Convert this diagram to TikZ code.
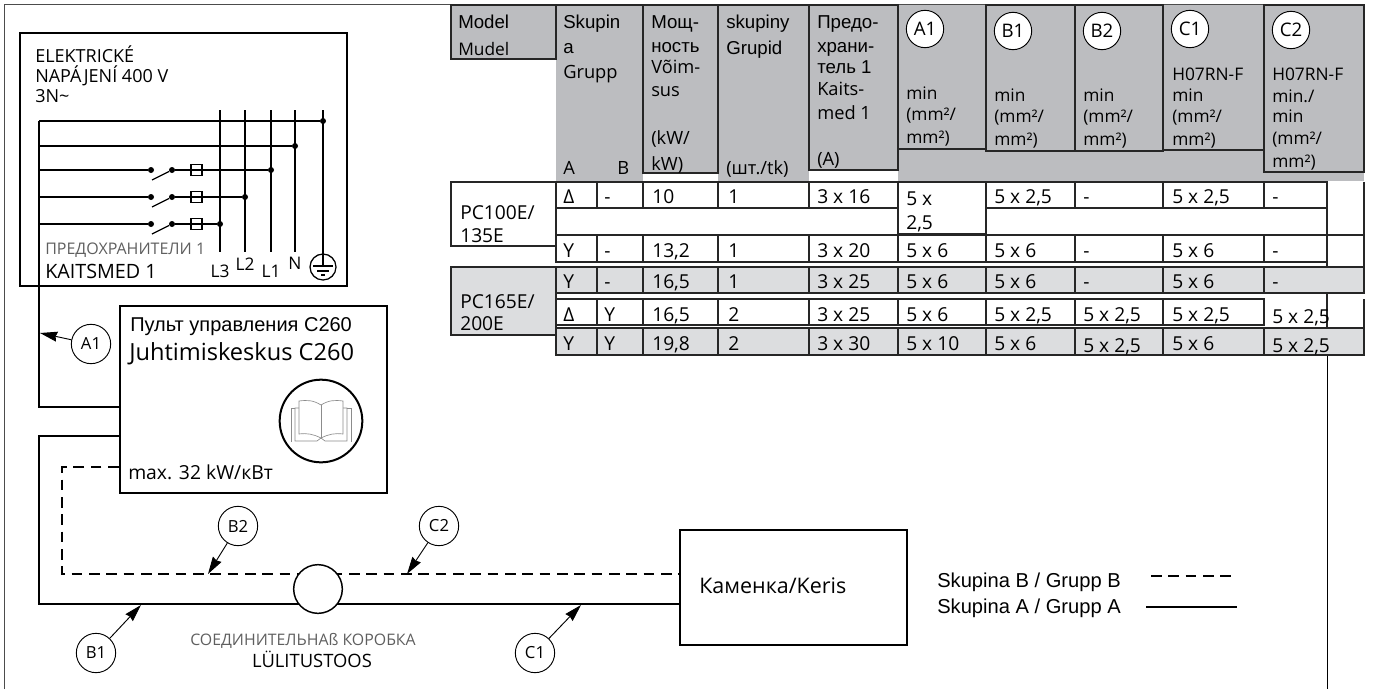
\documentclass[tikz,border=0pt]{standalone}
\usepackage{fontspec}
\usepackage{xcolor}
\setmainfont{Open Sans}
\newfontfamily\arialfont{Liberation Sans}
\usetikzlibrary{arrows.meta, positioning}
\definecolor{headergrey}{RGB}{188,189,192}
\definecolor{rowgrey}{RGB}{220,221,223}
\definecolor{labelgrey}{RGB}{95,95,95}

\begin{document}
\begin{tikzpicture}[
    x=0.75pt, y=-0.75pt,
    wire/.style={line width=2.1pt},
    thinwire/.style={line width=0.95pt},
    grid/.style={draw=black!85, line width=1.05pt},
    dashwire/.style={line width=2.1pt, dash pattern=on 8pt off 5pt},
    leader/.style={-{Stealth[length=13pt, width=7.5pt, inset=1pt]}, line width=0.7pt},
    tag/.style={draw, circle, fill=white, minimum size=29.5pt, inner sep=0pt, line width=0.7pt, font=\fontsize{12.5}{14}\selectfont},
    htag/.style={tag, minimum size=28pt, font=\fontsize{14}{16}\selectfont},
    junction/.style={circle, fill=black, minimum size=4.5pt, inner sep=0pt},
    fuse/.style={draw, thinwire, minimum size=8.2pt, inner sep=0pt},
    lab/.style={anchor=west, inner sep=0pt, text height=10.5pt, text depth=0pt},
    txt/.style={lab, font=\fontsize{13}{15}\selectfont},
    hdr/.style={lab, font=\fontsize{13.7}{15}\selectfont},
    cell/.style={lab, font=\fontsize{14.4}{16}\selectfont},
    ari/.style={lab, font=\arialfont\fontsize{14}{16}\selectfont},
    small/.style={lab, font=\fontsize{13.5}{16}\selectfont},
    unit/.style={draw, line width=2pt, inner sep=0pt}
]
    \useasboundingbox (0,0) rectangle (1373,689);

    % Outer frame
    \draw[line width=0.8pt, black!70] (4.5,689) -- (4.5,4.5) -- (1320,4.5);
    \draw[line width=0.7pt] (1327,355) -- (1327,689);

    % Mains box
    \node[unit, minimum width=245.25pt, minimum height=189.75pt] (mains) at (183.5,159.5) {};
    \node[small] (mainsa) at (35,55) {ELEKTRICKÉ};
    \node[small] (mainsb) at (35,75) {NAPÁJENÍ 400 V};
    \node[small] (mainsc) at (35,95) {3N\textasciitilde};
    \foreach \wx in {220,245,271,295,323}
        \draw[thinwire] (\wx,110) -- (\wx,252);
    \coordinate (bus) at (39,121);
    \coordinate (feed) at (39,407);
    \node[junction] (dotpe) at (323,121) {};
    \node[junction] (dotn) at (295,146) {};
    \draw[thinwire] (bus) -- (dotpe);
    \draw[thinwire] (39,146) -- (dotn);
    \foreach \wy/\wx/\wname in {170/271/la,197/245/lb,224/220/lc} {
        \node[junction] (\wname-in) at (151,\wy) {};
        \node[junction] (\wname-out) at (172,\wy) {};
        \node[fuse] (\wname-fuse) at (196.5,\wy) {};
        \node[junction] (\wname-dot) at (\wx,\wy) {};
        \coordinate (\wname-bus) at (39,\wy);
        \coordinate (\wname-blade) at (152,\wy+10);
        \draw[thinwire] (\wname-bus) -- (\wname-in);
        \draw[thinwire] (\wname-blade) -- (\wname-out);
        \draw[thinwire] (\wname-out) -- (\wname-dot);
    }
    \node[lab, text=labelgrey, font=\fontsize{12}{14}\selectfont] (fuseru) at (45,247) {ПРЕДОХРАНИТЕЛИ 1};
    \node[lab, font=\fontsize{14.8}{16}\selectfont] (fuseet) at (45,271) {KAITSMED 1};
    \node[txt, anchor=center] (lc) at (220,270) {L3};
    \node[txt, anchor=center] (lb) at (245,263) {L2};
    \node[txt, anchor=center] (la) at (271,270) {L1};
    \node[txt, anchor=center] (ln) at (295,262) {N};
    \node[draw, circle, thinwire, minimum size=19.5pt, inner sep=0pt] (earth) at (323,267) {};
    \draw[thinwire] (313,266) -- (333,266);
    \draw[thinwire] (317,271) -- (329,271);
    \draw[thinwire] (321,275) -- (325,275);
    \draw[thinwire] (323,252) -- (323,266);

    % Control unit
    \node[unit, minimum width=200.25pt, minimum height=140.25pt] (ctrl) at (253.5,399.5) {};
    \node[lab, font=\arialfont\fontsize{15}{17}\selectfont] (ctrlru) at (130,324) {Пульт управления C260};
    \node[lab, font=\fontsize{17.7}{20}\selectfont] (ctrlet) at (129,353) {Juhtimiskeskus C260};
    \node[lab, font=\fontsize{14.5}{17}\selectfont] (ctrlmax) at (128,472) {max. 32 kW/кВт};
    \node[draw, circle, line width=1.5pt, minimum size=62pt, inner sep=0pt] (manual) at (321,421) {};
    \begin{scope}[black!45, line width=0.5pt]
        \draw (321,405) .. controls (313,400) and (307,400) .. (299,401) -- (299,434) .. controls (307,433) and (313,434) .. (321,438);
        \draw (321,405) .. controls (329,400) and (335,400) .. (343,401) -- (343,434) .. controls (335,433) and (329,434) .. (321,438);
        \draw (321,405) -- (321,438);
        \draw (299,408) -- (295,408) -- (295,441) -- (317,441) -- (321,438);
        \draw (343,408) -- (347,408) -- (347,441) -- (325,441) -- (321,438);
        \draw (295,408) -- (291,408) -- (291,442);
        \draw (347,408) -- (351,408) -- (351,442);
    \end{scope}

    % Heater
    \node[unit, minimum width=170.25pt, minimum height=86.25pt] (heater) at (793.5,587.5) {};
    \node[lab, font=\fontsize{16.1}{18}\selectfont] (heaterlabel) at (699,586) {Каменка/Keris};

    % Wiring
    \coordinate (lineb) at (39,436);
    \coordinate (linea) at (39,604);
    \coordinate (dashb) at (62,467);
    \coordinate (dasha) at (62,574);
    \draw[wire] (bus) -- (feed) -- (feed -| ctrl.west);
    \draw[wire] (lineb -| ctrl.west) -- (lineb) -- (linea) -- (linea -| heater.west);
    \draw[dashwire] (dashb -| ctrl.west) -- (dashb) -- (dasha) -- (dasha -| heater.west);
    \node[draw, circle, fill=white, line width=1.1pt, minimum size=36.5pt, inner sep=0pt] (jbox) at (318,589) {};
    \node[lab, anchor=center, text=labelgrey, font=\fontsize{11.9}{14}\selectfont] (jboxru) at (303,638) {СОЕДИНИТЕЛЬНАß КОРОБКА};
    \node[lab, anchor=center, font=\fontsize{13.8}{16}\selectfont] (jboxet) at (312,660) {LÜLITUSTOOS};

    % Cable tags
    \node[tag] (A1) at (91,344) {A1};
    \node[tag] (B1) at (96,653) {B1};
    \node[tag] (B2) at (238,526) {B2};
    \node[tag] (C1) at (535,653) {C1};
    \node[tag] (C2) at (439,526) {C2};
    \coordinate (tipA1) at (40,333);
    \coordinate (tipB1) at (141,605);
    \coordinate (tipB2) at (208,574);
    \coordinate (tipC1) at (581,605);
    \coordinate (tipC2) at (407,574);
    \foreach \cable in {A1,B1,B2,C1,C2}
        \draw[leader] (\cable) -- (tip\cable);

    % Legend
    \node[lab, font=\arialfont\fontsize{15.1}{17}\selectfont] (legb) at (937,580) {Skupina B / Grupp B};
    \node[lab, font=\arialfont\fontsize{15.1}{17}\selectfont] (lega) at (937,606) {Skupina A / Grupp A};
    \coordinate (legdash) at (1151,576);
    \coordinate (legline) at (1146,607);
    \draw[dashwire] (legdash) -- (1237,576);
    \draw[wire] (legline) -- (1237,607);

    % Table header
    \fill[headergrey] (556,5) rectangle (1364,181);
    \fill[white] (643,173) rectangle (718,181);
    \fill[white] (809,170) rectangle (898,181);
    \filldraw[fill=headergrey, grid] (451,5) rectangle (556,59);
    \foreach \xa/\xb/\yb in {556/643/5,643/718/173,718/809/5,809/898/170,986/1075/151,1075/1163/151,1264/1364/172}
        \draw[grid] (\xa,5) rectangle (\xb,\yb);
    \draw[grid] (898,149) -- (986,149);
    \draw[grid] (1163,150) -- (1264,150);

    \node[ari] (hmodel) at (458,21) {Model};
    \node[txt] (hmudel) at (458,48) {Mudel};
    \node[ari] (hgroupa) at (563,21) {Skupin};
    \node[ari] (hgroupb) at (563,46) {a};
    \node[hdr] (hgroupc) at (563,71) {Grupp};
    \node[hdr] (hcola) at (563,167) {A};
    \node[hdr] (hcolb) at (617,167) {B};
    \node[ari] (hpowa) at (651,21) {Мощ-};
    \node[ari] (hpowb) at (651,45) {ность};
    \node[hdr] (hpowc) at (651,66) {Võim-};
    \node[hdr] (hpowd) at (651,89) {sus};
    \node[hdr] (hpowe) at (651,137) {(kW/};
    \node[hdr] (hpowf) at (651,163) {kW)};
    \node[ari] (hnuma) at (726,21) {skupiny};
    \node[ari] (hnumb) at (726,47) {Grupid};
    \node[hdr] (hnumc) at (726,167) {(шт./tk)};
    \node[ari] (hfusa) at (817,21) {Предо-};
    \node[ari] (hfusb) at (817,45) {храни-};
    \node[ari] (hfusc) at (817,66) {тель 1};
    \node[hdr] (hfusd) at (817,88) {Kaits-};
    \node[hdr] (hfuse) at (817,112) {med 1};
    \node[hdr] (hfusf) at (817,158) {(A)};
    \node[htag] (hA1) at (925,29) {A1};
    \node[htag] (hB1) at (1013,31) {B1};
    \node[htag] (hB2) at (1102,31) {B2};
    \node[htag] (hC1) at (1190,29) {C1};
    \node[htag] (hC2) at (1291,30) {C2};
    \foreach \xa/\ya/\cname in {906/92/a,994/94/b,1083/94/c,1172/94/d} {
        \node[txt] (hmin\cname) at (\xa,\ya) {min};
        \node[txt] (hmma\cname) at (\xa,\ya+21) {(mm²/};
        \node[txt] (hmmb\cname) at (\xa,\ya+44) {mm²)};
    }
    \node[txt] (hcablea) at (1172,73) {H07RN-F};
    \node[txt] (hcableb) at (1272,73) {H07RN-F};
    \node[txt] (hmina) at (1272,95) {min./};
    \node[txt] (hminb) at (1272,115) {min};
    \node[txt] (hmmc) at (1272,137) {(mm²/};
    \node[txt] (hmmd) at (1272,160) {mm²)};

    % Table rows
    \filldraw[fill=white, grid] (451,182) rectangle (556,246);
    \filldraw[fill=rowgrey, grid] (451,267) rectangle (556,335);
    \node[cell] (pca) at (460,212) {PC100E/};
    \node[cell] (pcb) at (460,235) {135E};
    \node[cell] (pcc) at (460,301) {PC165E/};
    \node[cell] (pcd) at (460,323) {200E};

    \fill[white] (556,182) rectangle (1364,235);
    \fill[rowgrey] (556,267) rectangle (1364,293);
    \fill[rowgrey] (556,328) rectangle (1364,355);
    \foreach \ya/\yb in {182/208,235/262}
        \foreach \xa/\xb in {556/597,597/643,643/718,718/809,809/898,986/1075,1075/1163,1163/1264,1264/1327}
            \draw[grid] (\xa,\ya) rectangle (\xb,\yb);
    \draw[grid] (898,235) rectangle (986,262);
    \draw[grid] (898,182) rectangle (986,234);
    \draw[grid] (556,208) rectangle (898,235);
    \draw[grid] (986,208) rectangle (1327,235);
    \foreach \ya/\yb in {267/293,328/355}
        \foreach \xa/\xb in {556/597,597/643,643/718,718/809,809/898,898/986,986/1075,1075/1163,1163/1264,1264/1364}
            \draw[grid] (\xa,\ya) rectangle (\xb,\yb);
    \foreach \xa/\xb in {556/597,597/643,643/718,718/809,809/898,898/986,986/1075,1075/1163,1163/1264}
        \draw[grid] (\xa,299) rectangle (\xb,325);
    \draw[grid] (1364,182) -- (1364,267);
    \draw[grid] (1327,235) -- (1364,235);
    \draw[grid] (1327,262) -- (1327,267);
    \draw[grid] (1327,293) -- (1327,328);
    \draw[grid] (1364,299) -- (1364,328);

    \foreach \ya/\rname/\ca/\cb/\cc/\cd/\ce/\cf/\cg/\ch/\ci/\cj in {
        {196/ra/Δ/-/10/1/3 x 16/{}/5 x 2,5/-/5 x 2,5/-},
        {250/rb/Y/-/13,2/1/3 x 20/5 x 6/5 x 6/-/5 x 6/-},
        {281/rc/Y/-/16,5/1/3 x 25/5 x 6/5 x 6/-/5 x 6/-},
        {314/rd/Δ/Y/16,5/2/3 x 25/5 x 6/5 x 2,5/5 x 2,5/5 x 2,5/{}},
        {343/re/Y/Y/19,8/2/3 x 30/5 x 10/5 x 6/{}/5 x 6/{}}} {
        \node[cell] (\rname-a) at (563,\ya) {\ca};
        \node[cell] (\rname-b) at (604,\ya) {\cb};
        \node[cell] (\rname-c) at (652,\ya) {\cc};
        \node[cell] (\rname-d) at (728,\ya) {\cd};
        \node[cell] (\rname-e) at (817,\ya) {\ce};
        \node[cell] (\rname-f) at (906,\ya) {\cf};
        \node[cell] (\rname-g) at (994,\ya) {\cg};
        \node[cell] (\rname-h) at (1083,\ya) {\ch};
        \node[cell] (\rname-i) at (1172,\ya) {\ci};
        \node[cell] (\rname-j) at (1272,\ya) {\cj};
    }
    \node[cell] (cella) at (906,198) {5 x};
    \node[cell] (cellb) at (906,222) {2,5};
    \node[cell] (cellc) at (1272,316) {5 x 2,5};
    \node[cell] (celld) at (1083,345) {5 x 2,5};
    \node[cell] (celle) at (1272,345) {5 x 2,5};
\end{tikzpicture}
\end{document}
